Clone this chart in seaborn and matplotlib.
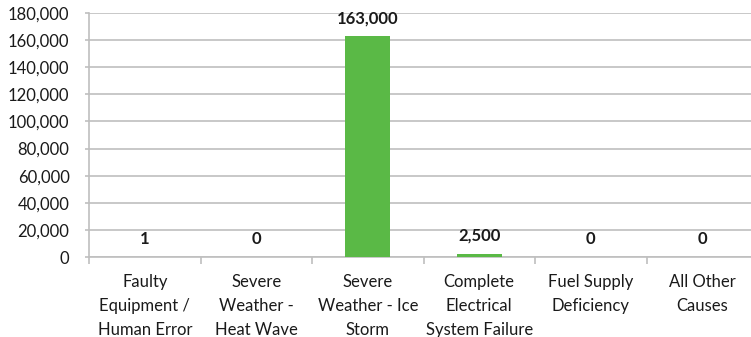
import matplotlib
matplotlib.use("Agg")
import matplotlib.pyplot as plt
import seaborn as sns
import pandas as pd
from matplotlib.ticker import FuncFormatter, FixedLocator

categories = [
    "Faulty\nEquipment /\nHuman Error",
    "Severe\nWeather -\nHeat Wave",
    "Severe\nWeather - Ice\nStorm",
    "Complete\nElectrical\nSystem Failure",
    "Fuel Supply\nDeficiency",
    "All Other\nCauses",
]
values = [1, 0, 163000, 2500, 0, 0]
value_labels = ["1", "0", "163,000", "2,500", "0", "0"]
y_ticks = list(range(0, 180001, 20000))

sns.set_theme(style="white")
plt.rcParams["font.family"] = ["Lato", "DejaVu Sans"]

df = pd.DataFrame({"cause": categories, "customers": values})

fig = plt.figure(figsize=(7.51, 3.37), dpi=100)
ax = fig.add_axes([89 / 751, 80 / 337, (758 - 89) / 751, 244 / 337])

sns.barplot(data=df, x="cause", y="customers", color="#5AB946", width=0.4,
            saturation=1, ax=ax, zorder=3, edgecolor="none", linewidth=0)

ax.set_ylim(0, 180000)
ax.set_xlim(-0.5, len(categories) - 0.5)
ax.yaxis.set_major_locator(FixedLocator(y_ticks))
ax.yaxis.set_major_formatter(FuncFormatter(lambda v, p: f"{int(v):,}"))
ax.grid(axis="y", color="#BFBFBF", linewidth=1.2, zorder=0)
ax.set_axisbelow(True)

for s in ["top", "right"]:
    ax.spines[s].set_visible(False)
for s in ["left", "bottom"]:
    ax.spines[s].set_color("#BFBFBF")
    ax.spines[s].set_linewidth(1.2)

ax.tick_params(axis="y", which="major", left=True, length=3, width=1.2,
               color="#BFBFBF", pad=11, labelsize=12, labelcolor="#1a1a1a")

# category boundaries as tick marks, labels at centers
n = len(categories)
ax.set_xticks([i - 0.5 for i in range(n + 1)])
ax.set_xticklabels([""] * (n + 1))
ax.set_xticks(list(range(n)), minor=True)
ax.set_xticklabels(categories, minor=True, fontsize=12, color="#1a1a1a",
                   linespacing=1.62, va="top")
ax.tick_params(axis="x", which="major", bottom=True, length=5, width=1.2,
               color="#BFBFBF")
ax.tick_params(axis="x", which="minor", bottom=False, length=0, pad=12)
ax.set_xlabel("")
ax.set_ylabel("")

ax.bar_label(ax.containers[0], labels=value_labels, padding=7,
             fontsize=12, fontweight="bold", color="#1a1a1a")

fig.savefig("out.png", dpi=100)
